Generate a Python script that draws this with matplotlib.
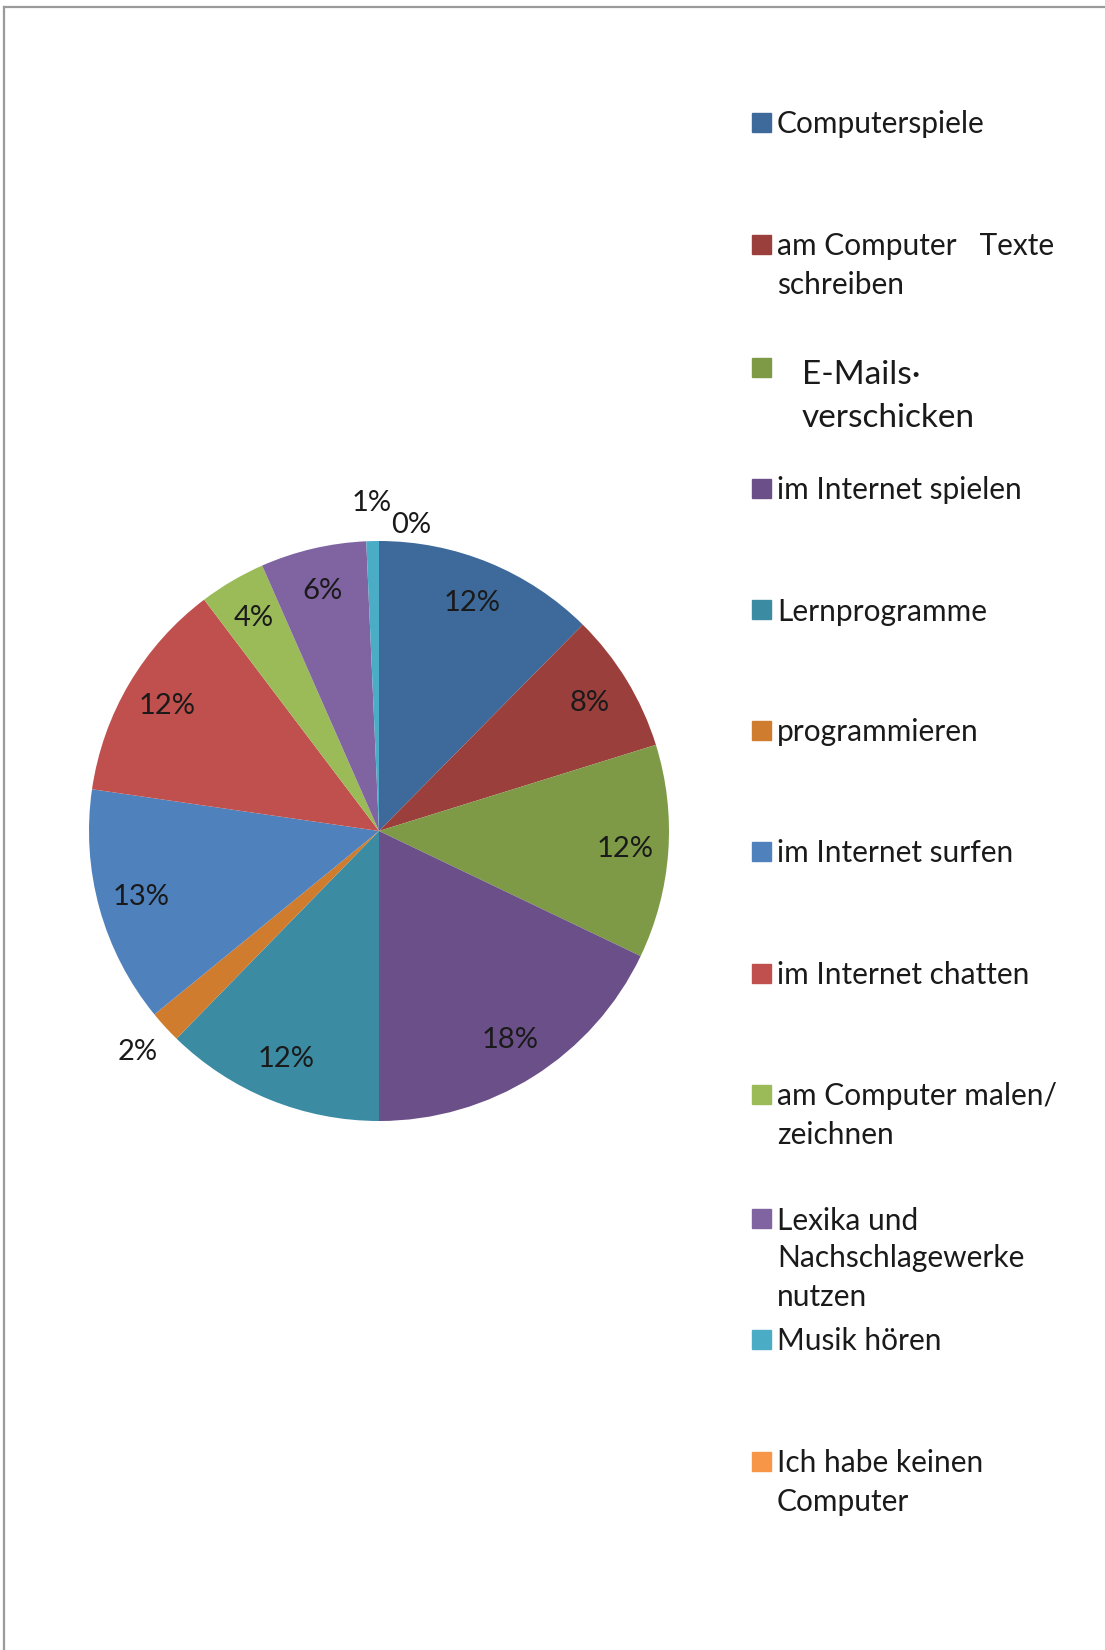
import numpy as np
import matplotlib.pyplot as plt
from matplotlib.patches import Rectangle
from matplotlib.lines import Line2D

plt.rcParams['font.family'] = ['Lato', 'DejaVu Sans']

categories = [
    "Computerspiele",
    "am Computer   Texte\nschreiben",
    "E-Mails·\nverschicken",
    "im Internet spielen",
    "Lernprogramme",
    "programmieren",
    "im Internet surfen",
    "im Internet chatten",
    "am Computer malen/\nzeichnen",
    "Lexika und\nNachschlagewerke\nnutzen",
    "Musik hören",
    "Ich habe keinen\nComputer",
]
shares = [12.4, 7.8, 11.9, 17.9, 12.3, 1.8, 13.2, 12.4, 3.7, 5.9, 0.7, 0.0]
colors = ["#3d6a9a", "#9b3f3c", "#7e9a47", "#6a4f88", "#3b8ba3", "#d07c2e",
          "#4f81bd", "#c0504d", "#9bbb59", "#8064a2", "#4bacc6", "#f79646"]

# legend first-line centres in pixels from the top of the figure
legend_y = [122, 244, 372, 488, 609, 730, 851, 973, 1094, 1218, 1339, 1461]

W, H = 1105, 1650
fig = plt.figure(figsize=(W / 100, H / 100), dpi=100)

# pie axes: centre (379, 831), radius 290 px
cx, cy, R = 379, 831, 290
half = 300
ax = fig.add_axes([(cx - half) / W, (H - cy - half) / H, 2 * half / W, 2 * half / H])
wedges, _ = ax.pie(shares, colors=colors, startangle=90, counterclock=False,
                   radius=1, wedgeprops=dict(linewidth=0))
lim = half / R
ax.set_xlim(-lim, lim)
ax.set_ylim(-lim, lim)
ax.set_aspect('equal')
ax.axis('off')

# percentage labels: inside for big slices, outside for small ones
for i, w in enumerate(wedges):
    mid = np.deg2rad((w.theta1 + w.theta2) / 2)
    pct = shares[i]
    r = 0.85 if pct >= 3 else 1.13
    if pct == 0:
        mid -= np.deg2rad(6)
        r = 1.06
    ax.text(r * np.cos(mid), r * np.sin(mid), "%.0f%%" % pct,
            ha='center', va='center', fontsize=21, color='#1a1a1a')

# legend drawn by hand, one text per line
for i, lab in enumerate(categories):
    y = legend_y[i]
    big = (i == 2)
    tx = 802 if big else 777
    fs = 24 if big else 21.5
    step = 43 if big else 38
    sq_mid = y - 5 if big else y
    fig.patches.append(Rectangle((752 / W, (H - sq_mid - 9.5) / H), 19 / W, 19 / H,
                                 transform=fig.transFigure, color=colors[i]))
    for k, line in enumerate(lab.split("\n")):
        fig.text(tx / W, (H - y - k * step) / H, line, ha='left', va='center_baseline',
                 fontsize=fs, color='#1a1a1a')

# page frame lines
fig.lines.append(Line2D([4 / W, 1], [(H - 7) / H] * 2, transform=fig.transFigure,
                        color='#9a9a9a', linewidth=1.6))
fig.lines.append(Line2D([4 / W] * 2, [0, (H - 7) / H], transform=fig.transFigure,
                        color='#9a9a9a', linewidth=1.6))

fig.savefig("out.png", dpi=100)
